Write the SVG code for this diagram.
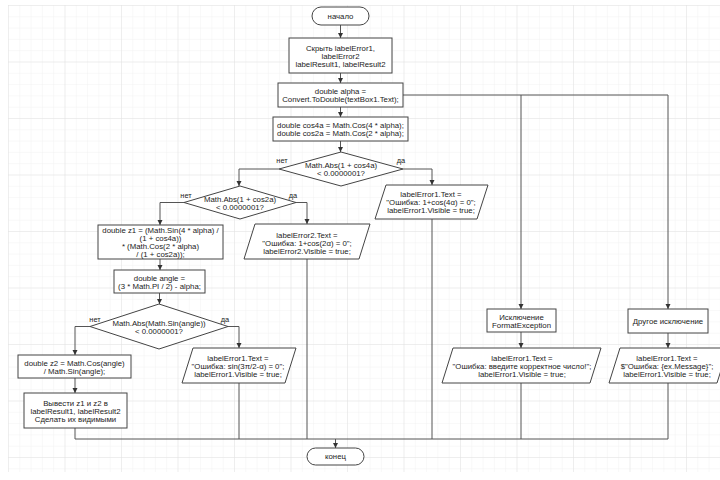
<svg xmlns="http://www.w3.org/2000/svg" width="720" height="480" viewBox="0 0 720 480">
<defs>
<pattern id="minor" x="8" y="5" width="11.3" height="11.3" patternUnits="userSpaceOnUse">
<path d="M0,0 H11.3 M0,0 V11.3" fill="none" stroke="#f1f1f1" stroke-width="1"/>
</pattern>
<pattern id="major" x="8" y="5" width="56.5" height="56.5" patternUnits="userSpaceOnUse">
<path d="M0,0 H56.5 M0,0 V56.5" fill="none" stroke="#e3e3e3" stroke-width="1"/>
</pattern>
<marker id="arr" markerUnits="userSpaceOnUse" markerWidth="6" markerHeight="6" refX="5" refY="2.5" orient="auto">
<path d="M0,0 L5,2.5 L0,5 z" fill="#333"/>
</marker>
<style>
.s{fill:#fff;stroke:#444;stroke-width:1}
.c{fill:none;stroke:#555;stroke-width:1}
.a{marker-end:url(#arr)}
text{font-family:"Liberation Sans",Arial,sans-serif;font-size:7.8px;fill:#222;text-anchor:middle;dominant-baseline:central}
.lb{font-size:7.4px}
</style>
</defs>
<rect width="720" height="480" fill="#fff"/>
<rect x="8" y="5" width="712" height="467" fill="url(#minor)"/>
<rect x="8" y="5" width="712" height="467" fill="url(#major)"/>

<g id="connectors">
<path class="c a" d="M340.5,25 V38"/>
<path class="c a" d="M340.5,73 V83"/>
<path class="c a" d="M340.5,107 V117"/>
<path class="c a" d="M340.5,141 V152"/>
<path class="c a" d="M279,169 H239 V186"/>
<path class="c a" d="M403,169 H432 V185"/>
<path class="c a" d="M184,202.5 H160 V225"/>
<path class="c a" d="M296,202.5 H307 V224"/>
<path class="c a" d="M160,259 V270"/>
<path class="c a" d="M159.5,293 V304"/>
<path class="c a" d="M90,326.5 H75 V355"/>
<path class="c a" d="M228,326.5 H239 V348"/>
<path class="c a" d="M75,378 V393"/>
<path class="c a" d="M403,95 H668 V309"/>
<path class="c a" d="M521,95 V309"/>
<path class="c a" d="M521,332 V348"/>
<path class="c a" d="M668,333 V348"/>
<path class="c" d="M75,428 V439 H668"/>
<path class="c" d="M239,383 V439"/>
<path class="c" d="M307,259 V439"/>
<path class="c" d="M432,219 V439"/>
<path class="c" d="M521,383 V439"/>
<path class="c" d="M668,383 V439"/>
<path class="c a" d="M335.5,439 V448"/>
<text class="lb" x="282" y="160.5">нет</text>
<text class="lb" x="401" y="160.5">да</text>
<text class="lb" x="186" y="195">нет</text>
<text class="lb" x="293" y="195">да</text>
<text class="lb" x="95" y="319">нет</text>
<text class="lb" x="225" y="319">да</text>
</g>

<g id="start">
<rect class="s" x="312" y="7" width="57" height="18" rx="9"/>
<text x="340.5" y="16">начало</text>
</g>
<g id="hide">
<rect class="s" x="289" y="38" width="103" height="35"/>
<text x="340.5"><tspan x="340.5" y="47.5">Скрыть labelError1,</tspan><tspan x="340.5" y="55.5">labelError2</tspan><tspan x="340.5" y="63.5">labelResult1, labelResult2</tspan></text>
</g>
<g id="alpha">
<rect class="s" x="278" y="83" width="125" height="24"/>
<text><tspan x="340.5" y="91">double alpha =</tspan><tspan x="340.5" y="99">Convert.ToDouble(textBox1.Text);</tspan></text>
</g>
<g id="cos">
<rect class="s" x="273" y="117" width="135" height="24"/>
<text><tspan x="340.5" y="125">double cos4a = Math.Cos(4 * alpha);</tspan><tspan x="340.5" y="133">double cos2a = Math.Cos(2 * alpha);</tspan></text>
</g>
<g id="d1">
<polygon class="s" points="279,169 341,152 403,169 341,186"/>
<text><tspan x="341" y="165">Math.Abs(1 + cos4a)</tspan><tspan x="341" y="173">&lt; 0.0000001?</tspan></text>
</g>
<g id="p1">
<polygon class="s" points="386,185 488,185 477,219 375,219"/>
<text><tspan x="431" y="194">labelError1.Text =</tspan><tspan x="431" y="202">"Ошибка: 1+cos(4α) = 0";</tspan><tspan x="431" y="210">labelError1.Visible = true;</tspan></text>
</g>
<g id="d2">
<polygon class="s" points="184,202.5 240,186 296,202.5 240,219"/>
<text><tspan x="240" y="198.5">Math.Abs(1 + cos2a)</tspan><tspan x="240" y="206.5">&lt; 0.0000001?</tspan></text>
</g>
<g id="p2">
<polygon class="s" points="255,224 370,224 359,259 244,259"/>
<text><tspan x="307" y="235">labelError2.Text =</tspan><tspan x="307" y="243">"Ошибка: 1+cos(2α) = 0";</tspan><tspan x="307" y="251">labelError2.Visible = true;</tspan></text>
</g>
<g id="z1">
<rect class="s" x="98" y="225" width="125" height="34"/>
<text><tspan x="160.5" y="230">double z1 = (Math.Sin(4 * alpha) /</tspan><tspan x="160.5" y="238">(1 + cos4a))</tspan><tspan x="160.5" y="246">* (Math.Cos(2 * alpha)</tspan><tspan x="160.5" y="254">/ (1 + cos2a));</tspan></text>
</g>
<g id="angle">
<rect class="s" x="114" y="270" width="91" height="23"/>
<text><tspan x="159.5" y="277.5">double angle =</tspan><tspan x="159.5" y="285.5">(3 * Math.PI / 2) - alpha;</tspan></text>
</g>
<g id="d3">
<polygon class="s" points="90,326.5 159,304 228,326.5 159,349"/>
<text><tspan x="159" y="322.5">Math.Abs(Math.Sin(angle))</tspan><tspan x="159" y="330.5">&lt; 0.0000001?</tspan></text>
</g>
<g id="p3">
<polygon class="s" points="193,348 296,348 285,383 182,383"/>
<text><tspan x="238" y="358">labelError1.Text =</tspan><tspan x="238" y="366">"Ошибка: sin(3π/2-α) = 0";</tspan><tspan x="238" y="374">labelError1.Visible = true;</tspan></text>
</g>
<g id="z2">
<rect class="s" x="18" y="355" width="113" height="23"/>
<text><tspan x="74.5" y="362.5">double z2 = Math.Cos(angle)</tspan><tspan x="74.5" y="370.5">/ Math.Sin(angle);</tspan></text>
</g>
<g id="out">
<rect class="s" x="24" y="393" width="103" height="35"/>
<text><tspan x="75.5" y="402.5">Вывести z1 и z2 в</tspan><tspan x="75.5" y="410.5">labelResult1, labelResult2</tspan><tspan x="75.5" y="418.5">Сделать их видимыми</tspan></text>
</g>
<g id="fmt">
<rect class="s" x="487" y="309" width="69" height="23"/>
<text><tspan x="521.5" y="316.5">Исключение</tspan><tspan x="521.5" y="324.5">FormatException</tspan></text>
</g>
<g id="p4">
<polygon class="s" points="453,348 601,348 590,383 442,383"/>
<text><tspan x="522" y="358">labelError1.Text =</tspan><tspan x="522" y="366">"Ошибка: введите корректное число!";</tspan><tspan x="522" y="374">labelError1.Visible = true;</tspan></text>
</g>
<g id="other">
<rect class="s" x="628" y="309" width="80" height="24"/>
<text x="668" y="321">Другое исключение</text>
</g>
<g id="p5">
<polygon class="s" points="620,348 728,348 717,383 609,383"/>
<text><tspan x="667" y="358">labelError1.Text =</tspan><tspan x="667" y="366">$"Ошибка: {ex.Message}";</tspan><tspan x="667" y="374">labelError1.Visible = true;</tspan></text>
</g>
<g id="end">
<rect class="s" x="307" y="448" width="57" height="17" rx="8.5"/>
<text x="335.5" y="456.5">конец</text>
</g>
</svg>
